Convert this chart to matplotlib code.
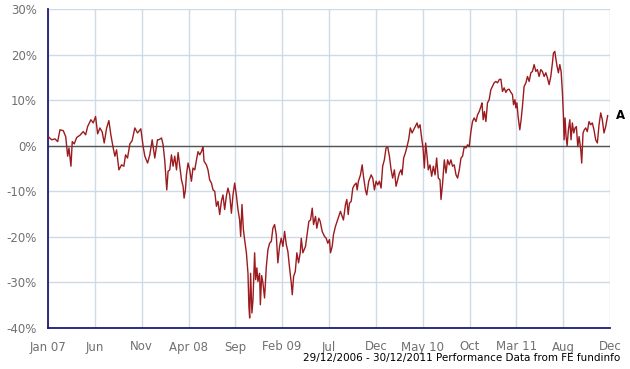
import matplotlib.pyplot as plt
import numpy as np

# months elapsed since 29/12/2006 and cumulative performance (%)
months = [0.03, 0.39, 0.75, 1.03, 1.28, 1.63, 1.89, 2.10, 2.24, 2.45, 2.59, 2.80, 3.06, 3.41,
          3.76, 4.02, 4.23, 4.58, 4.83, 5.08, 5.30, 5.54, 5.79, 6.00, 6.26, 6.50, 6.71, 6.96,
          7.14, 7.32, 7.57, 7.85, 8.10, 8.28, 8.49, 8.74, 8.98, 9.27, 9.56, 9.91, 10.16, 10.34,
          10.63, 10.87, 11.12, 11.40, 11.69, 11.83, 12.12, 12.29, 12.47, 12.68, 12.82, 13.00,
          13.18, 13.35, 13.53, 13.72, 13.89, 14.07, 14.25, 14.42, 14.53, 14.67, 14.78, 14.95,
          15.13, 15.31, 15.48, 15.67, 15.85, 16.02, 16.20, 16.38, 16.55, 16.66, 16.91, 17.08,
          17.26, 17.45, 17.62, 17.80, 17.98, 18.15, 18.33, 18.51, 18.68, 18.86, 19.04, 19.21,
          19.40, 19.58, 19.75, 19.93, 20.11, 20.28, 20.46, 20.57, 20.71, 20.86, 20.99, 21.18,
          21.35, 21.45, 21.53, 21.63, 21.77, 21.88, 22.06, 22.17, 22.30, 22.41, 22.59, 22.67,
          22.81, 22.94, 23.12, 23.31, 23.48, 23.66, 23.84, 24.01, 24.19, 24.37, 24.54, 24.72,
          24.90, 25.08, 25.26, 25.44, 25.61, 25.79, 25.97, 26.08, 26.22, 26.40, 26.57, 26.75,
          26.93, 27.04, 27.21, 27.49, 27.68, 27.85, 28.03, 28.21, 28.35, 28.56, 28.70, 28.91,
          29.06, 29.27, 29.52, 29.70, 29.87, 30.05, 30.16, 30.34, 30.48, 30.69, 30.87, 31.04,
          31.22, 31.41, 31.54, 31.76, 31.90, 32.05, 32.18, 32.37, 32.54, 32.72, 32.90, 33.01,
          33.14, 33.36, 33.54, 33.68, 33.89, 34.03, 34.24, 34.50, 34.67, 34.85, 35.03, 35.20,
          35.38, 35.56, 35.73, 35.91, 36.09, 36.27, 36.45, 36.63, 36.80, 36.98, 37.16, 37.33,
          37.51, 37.69, 37.80, 37.97, 38.15, 38.33, 38.50, 38.68, 38.87, 39.04, 39.22, 39.40,
          39.54, 39.72, 39.89, 40.04, 40.18, 40.32, 40.47, 40.60, 40.78, 40.96, 41.14, 41.32,
          41.49, 41.67, 41.85, 41.96, 42.13, 42.31, 42.49, 42.66, 42.84, 43.02, 43.19, 43.37,
          43.56, 43.73, 43.91, 44.09, 44.26, 44.44, 44.62, 44.79, 44.97, 45.15, 45.32, 45.50,
          45.69, 45.86, 46.04, 46.22, 46.33, 46.46, 46.60, 46.75, 46.92, 47.10, 47.28, 47.45,
          47.63, 47.81, 47.99, 48.17, 48.35, 48.52, 48.70, 48.88, 49.05, 49.23, 49.42, 49.59,
          49.70, 49.85, 49.95, 50.06, 50.19, 50.37, 50.51, 50.65, 50.83, 51.02, 51.19, 51.37,
          51.55, 51.72, 51.90, 52.08, 52.25, 52.43, 52.61, 52.78, 52.97, 53.15, 53.32, 53.50,
          53.68, 53.85, 53.96, 54.11, 54.21, 54.35, 54.49, 54.64, 54.78, 54.92, 55.03, 55.10,
          55.20, 55.31, 55.42, 55.56, 55.71, 55.84, 55.98, 56.13, 56.27, 56.41, 56.56, 56.70,
          56.88, 56.98, 57.12, 57.26, 57.41, 57.58, 57.76, 57.94, 58.11, 58.29, 58.47, 58.65,
          58.83, 59.01, 59.18, 59.36, 59.54, 59.75]
perf = [2.0, 1.3, 1.5, 0.9, 3.5, 3.3, 2.0, -2.3, -0.5, -4.5, 0.9, 0.4, 1.8, 2.3,
        3.1, 2.4, 4.2, 5.7, 5.0, 6.4, 2.6, 3.9, 3.0, 0.6, 3.9, 5.5, 2.4, -0.5,
        -2.3, -0.9, -5.3, -4.2, -4.5, -2.0, -2.7, 0.4, 1.1, 3.9, 2.8, 3.7, -0.2, -2.3,
        -3.8, -2.0, 1.3, -2.7, 1.3, 1.3, 1.7, 0.2, -3.4, -9.7, -5.6, -5.3,
        -2.0, -4.5, -2.3, -5.3, -1.5, -4.5, -7.5, -8.9, -11.5, -9.7, -6.4, -3.8,
        -5.3, -7.8, -4.9, -5.3, -3.1, -1.3, -2.0, -1.3, -0.2, -3.4, -4.2, -5.3,
        -7.5, -8.2, -9.7, -10.0, -13.3, -12.2, -15.1, -12.2, -10.8, -14.0, -11.1, -9.3,
        -10.8, -14.8, -10.8, -8.2, -10.8, -14.0, -16.3, -19.9, -12.9, -18.4, -20.6, -23.5,
        -28.0, -35.3, -37.8, -28.0, -36.7, -34.0, -23.5, -29.4, -26.8, -29.8, -28.0, -34.9,
        -28.5, -30.0, -33.4, -26.5, -22.8, -21.4, -21.0, -18.1, -17.3, -19.5, -25.7, -22.1,
        -20.3, -22.1, -18.8, -21.7, -23.2, -26.8, -30.1, -32.7, -28.7, -27.6, -23.5, -25.7,
        -23.5, -20.3, -23.5, -22.1, -19.2, -16.6, -16.3, -13.7, -17.3, -15.5, -18.1, -15.9,
        -16.6, -18.8, -19.9, -20.3, -21.4, -20.6, -23.5, -22.1, -19.5, -17.7, -16.6, -15.5,
        -14.4, -15.5, -16.3, -12.9, -11.8, -15.1, -12.6, -12.2, -9.3, -8.6, -8.2, -9.7,
        -7.8, -6.4, -4.2, -6.7, -9.7, -10.8, -7.8, -6.4, -7.1, -9.7, -7.8, -8.6,
        -7.8, -9.3, -4.5, -3.1, -0.5, -0.3, -2.3, -5.3, -7.1, -5.3, -8.9, -7.5,
        -6.0, -5.3, -6.4, -2.7, -1.6, -0.2, 1.3, 3.9, 2.8, 3.5, 4.2, 5.0,
        3.9, 4.6, 1.7, -0.5, -4.9, 0.6, -2.3, -5.3, -4.2, -6.7, -4.5, -6.4,
        -2.7, -7.1, -7.5, -11.8, -8.2, -3.1, -6.0, -3.1, -4.2, -3.1, -4.5, -4.2,
        -6.4, -7.1, -5.3, -2.7, -2.3, -0.2, -0.5, 0.2, -0.2, 3.1, 5.3, 6.1,
        5.3, 6.8, 7.5, 8.6, 9.4, 5.7, 7.5, 5.3, 9.4, 10.1, 12.3, 13.0,
        13.8, 14.1, 13.8, 14.5, 14.6, 11.9, 12.7, 11.7, 12.3, 12.4, 11.7, 11.2,
        9.0, 10.1, 8.3, 9.4, 6.4, 3.5, 5.7, 8.6, 13.0, 13.8, 15.2, 14.1,
        16.0, 16.3, 17.8, 16.3, 16.7, 15.2, 16.7, 16.3, 15.2, 16.0, 14.9, 13.4,
        15.2, 18.1, 20.3, 20.7, 19.2, 17.4, 16.0, 17.8, 16.3, 11.6, 6.4, 1.3,
        6.1, 2.0, 0.0, 3.5, 5.7, 1.3, 5.0, 2.8, 3.9, 4.2, -0.2, 2.0,
        -0.9, -3.8, 2.8, 3.5, 3.9, 3.1, 5.3, 4.6, 5.0, 3.5, 1.3, 0.6,
        4.6, 7.2, 5.7, 2.8, 4.2, 6.6]

tick_labels = ['Jan 07', 'Jun', 'Nov', 'Apr 08', 'Sep', 'Feb 09', 'Jul', 'Dec',
               'May 10', 'Oct', 'Mar 11', 'Aug', 'Dec']
y_ticks = [-40, -30, -20, -10, 0, 10, 20, 30]
series_name = 'A'
footer = '29/12/2006 - 30/12/2011 Performance Data from FE fundinfo'

fig = plt.figure(figsize=(6.3, 3.69), dpi=100)
ax = fig.add_axes([48 / 630, 1 - 328 / 369, 562 / 630, 319 / 369])

ax.set_xlim(0, 60)
ax.set_ylim(-40, 30)
ax.set_xticks(np.arange(0, 61, 5))
ax.set_xticklabels(tick_labels)
ax.set_yticks(y_ticks)
ax.set_yticklabels([str(v) + '%' for v in y_ticks])
ax.grid(color='#cddbe6', linewidth=1)
ax.set_axisbelow(True)
ax.tick_params(length=0, labelsize=8.5, colors='#707070')
ax.tick_params(axis='y', pad=8)
ax.tick_params(axis='x', pad=9)

for side in ['top', 'right']:
    ax.spines[side].set_visible(False)
for side in ['left', 'bottom']:
    ax.spines[side].set_color('#1c1c78')
    ax.spines[side].set_linewidth(1.3)

ax.axhline(0, color='#555555', linewidth=1, zorder=2)
ax.plot(months, perf, color='#9b1b1e', linewidth=1.0, zorder=3)

ax.annotate(series_name, xy=(months[-1], perf[-1]), xytext=(6, 0), textcoords='offset points',
            fontsize=8.5, fontweight='bold', va='center', ha='left', annotation_clip=False)
fig.text(620 / 630, 1 - 358 / 369, footer, fontsize=7.5, ha='right', va='center')

plt.savefig('out.png', dpi=100)
